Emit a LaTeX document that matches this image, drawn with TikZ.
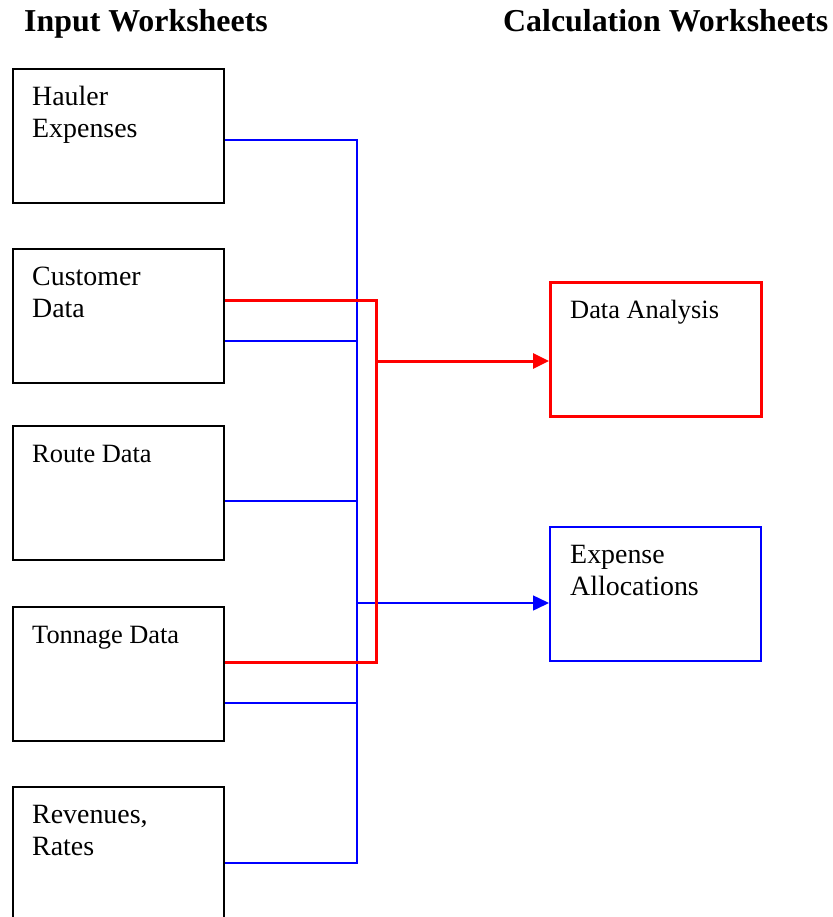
\documentclass[tikz,border=0pt]{standalone}
\usepackage{fontspec}
\setmainfont{Liberation Serif}
\usetikzlibrary{arrows.meta}
\begin{document}
\begin{tikzpicture}[x=1bp,y=-1bp,
	inbox/.style={draw, line width=2bp, minimum width=211bp, minimum height=134bp, inner sep=0, anchor=north west},
	redbox/.style={inbox, draw=red, line width=3bp},
	bluebox/.style={inbox, draw=blue},
	label1/.style={anchor=base west, align=left, inner sep=0, font=\fontsize{28}{32}\selectfont},
	label2/.style={anchor=base west, align=left, inner sep=0, font=\fontsize{26.5}{32}\selectfont},
	title/.style={anchor=base west, inner sep=0, font=\fontsize{32}{38}\selectfont\bfseries},
	blueline/.style={draw=blue, line width=1.5bp},
	redline/.style={draw=red, line width=3bp}]

		\useasboundingbox (0,0) rectangle (833,917);

		\node[title] (in) at (24,31) {Input Worksheets};
		\node[title] (calc) at (503,31) {Calculation Worksheets};

		% input worksheets
		\node[inbox] (h) at (12,68) {};
		\node[inbox] (c) at (12,248) {};
		\node[inbox] (r) at (12,425) {};
		\node[inbox] (t) at (12,606) {};
		\node[inbox] (v) at (12,786) {};

		% two-line labels sit on the baseline of their last line
		\node[label1] (ht) at ([shift={(20,69)}]h.north west) {Hauler\\Expenses};
		\node[label1] (ct) at ([shift={(20,69)}]c.north west) {Customer\\Data};
		\node[label2] (rt) at ([shift={(20,37)}]r.north west) {Route Data};
		\node[label2] (tt) at ([shift={(20,37)}]t.north west) {Tonnage Data};
		\node[label1] (vt) at ([shift={(20,69)}]v.north west) {Revenues,\\Rates};

		% calculation worksheets
		\node[redbox] (d) at (549,281) {};
		\node[bluebox] (e) at (549,526) {};

		\node[label2] (dt) at ([shift={(21,37)}]d.north west) {Data Analysis};
		\node[label1] (et) at ([shift={(21,69)}]e.north west) {Expense\\Allocations};

		% blue bus
		\coordinate (b1) at (357,140);
		\coordinate (b2) at (357,341);
		\coordinate (b3) at (357,501);
		\coordinate (b4) at (357,703);
		\coordinate (b5) at (357,863);
		\coordinate (ba) at (357,603);

		\draw[blueline] (h.east |- b1)--(b1)--(b5)--(v.east |- b5);
		\draw[blueline] (c.east |- b2)--(b2);
		\draw[blueline] (r.east |- b3)--(b3);
		\draw[blueline] (t.east |- b4)--(b4);
		\draw[blueline, -{Triangle[length=16bp,width=15bp]}] (ba)--(e.west |- ba);

		% red bus
		\coordinate (r1) at (376,300);
		\coordinate (r2) at (376,662);
		\coordinate (ra) at (376,361);

		\draw[redline] (c.east |- r1)--(r1)--(r2)--(t.east |- r2);
		\draw[redline, -{Triangle[length=16bp,width=15bp]}] (ra)--(d.west |- ra);

	\end{tikzpicture}
\end{document}
